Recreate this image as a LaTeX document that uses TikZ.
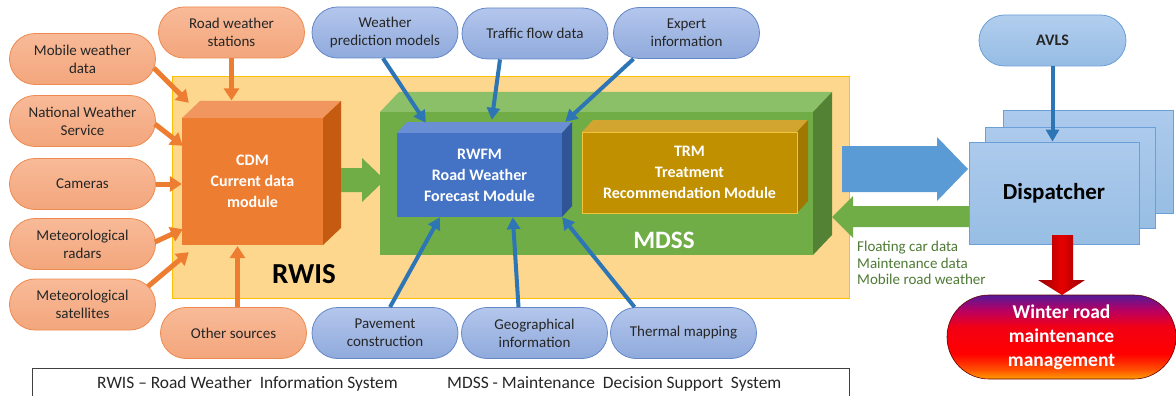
\documentclass[tikz,border=0pt]{standalone}
\usepackage{fontspec}
\setmainfont{Carlito}
\usetikzlibrary{shapes.misc,arrows.meta,calc}
\definecolor{ortop}{RGB}{248,186,152}
\definecolor{orbot}{RGB}{243,166,124}
\definecolor{ordraw}{RGB}{238,138,80}
\definecolor{orarrow}{RGB}{237,125,49}
\definecolor{bltop}{RGB}{180,198,236}
\definecolor{blbot}{RGB}{143,170,220}
\definecolor{bldraw}{RGB}{100,135,200}
\definecolor{blarrow}{RGB}{46,117,182}
\definecolor{txt}{RGB}{38,38,38}
\definecolor{rwisfill}{RGB}{253,215,142}
\definecolor{rwisdraw}{RGB}{255,192,0}
\definecolor{cdmfront}{RGB}{237,125,49}
\definecolor{cdmtop}{RGB}{241,150,95}
\definecolor{cdmside}{RGB}{197,90,17}
\definecolor{mdfront}{RGB}{112,173,71}
\definecolor{mdtop}{RGB}{140,192,104}
\definecolor{mdside}{RGB}{84,130,53}
\definecolor{rwfront}{RGB}{68,114,196}
\definecolor{rwtop}{RGB}{106,143,212}
\definecolor{rwside}{RGB}{47,85,151}
\definecolor{trfront}{RGB}{192,144,0}
\definecolor{trtop}{RGB}{210,165,48}
\definecolor{trside}{RGB}{160,120,0}
\definecolor{trdraw}{RGB}{240,196,60}
\definecolor{bigblue}{RGB}{91,155,213}
\definecolor{disptop}{RGB}{172,202,236}
\definecolor{dispbot}{RGB}{152,190,228}
\definecolor{dispdraw}{RGB}{106,159,216}
\definecolor{avtop}{RGB}{178,206,238}
\definecolor{avbot}{RGB}{150,188,228}
\definecolor{greentext}{RGB}{78,122,53}
\definecolor{darkred}{RGB}{150,0,0}
\definecolor{legdraw}{RGB}{64,64,64}
\pgfdeclareverticalshading{winshade}{100bp}{%
  rgb(0bp)=(1,0.62,0); rgb(25bp)=(1,0.62,0); rgb(31bp)=(1,0.3,0);
  rgb(40bp)=(1,0,0); rgb(56bp)=(0.95,0,0.08); rgb(66bp)=(0.72,0,0.38);
  rgb(75bp)=(0.33,0.1,0.6); rgb(100bp)=(0.33,0.1,0.6)}
\newcommand\pillfont{\fontsize{15}{18}\selectfont}
\newcommand\modfont{\fontsize{16}{21}\selectfont\bfseries}
\tikzset{
  pillshape/.style={rounded rectangle, minimum width=146pt, minimum height=51pt, inner sep=0pt, line width=0.8pt, align=center, text=txt, font=\pillfont},
  opill/.style={pillshape, draw=ordraw, top color=ortop, bottom color=orbot},
  bpill/.style={pillshape, draw=bldraw, top color=bltop, bottom color=blbot},
  oarr/.style={draw=orarrow, line width=5pt, -{Triangle[length=12pt,width=15pt]}},
  barr/.style={draw=blarrow, line width=4pt, -{Triangle[length=12pt,width=13pt]}},
  modtext/.style={text=white, font=\modfont, align=center, inner sep=0pt},
  dispbox/.style={draw=dispdraw, line width=0.8pt, top color=disptop, bottom color=dispbot, inner sep=0pt},
  legtext/.style={anchor=west, inner sep=0pt, text=txt, font=\fontsize{17.4}{20}\selectfont}
}
\begin{document}
\begin{tikzpicture}[x=1pt,y=-1pt]
\useasboundingbox (0,0) rectangle (1176,396);
% RWIS box
\node[draw=rwisdraw, fill=rwisfill, line width=0.8pt, minimum width=677pt, minimum height=222pt, inner sep=0pt] (rwis) at (510.5,187) {};
\node[font=\fontsize{29}{32}\selectfont\bfseries, text=black] (rwislabel) at (304,274) {RWIS};
% MDSS cube
\fill[mdtop] (380,112) -- (399,92) -- (832,92) -- (813,112) -- cycle;
\fill[mdside] (813,112) -- (832,92) -- (832,235) -- (813,255) -- cycle;
\node[fill=mdfront, minimum width=433pt, minimum height=143pt, inner sep=0pt] (mdss) at (596.5,183.5) {};
\node[font=\fontsize{25}{28}\selectfont\bfseries, text=white] (mdsslabel) at (664,240) {MDSS};
% RWFM cube
\fill[rwtop] (397,133) -- (407,122) -- (572,122) -- (562,133) -- cycle;
\fill[rwside] (562,133) -- (572,122) -- (572,206) -- (562,217) -- cycle;
\node[fill=rwfront, minimum width=165pt, minimum height=84pt, modtext] (rwfm) at (479.5,175) {RWFM\\Road Weather\\Forecast Module};
% TRM cube
\fill[trtop] (582,132) -- (593,120) -- (808,120) -- (797,132) -- cycle;
\fill[trside] (797,132) -- (808,120) -- (808,201) -- (797,213) -- cycle;
\node[fill=trfront, draw=trdraw, line width=0.8pt, minimum width=215pt, minimum height=81pt, modtext] (trm) at (689.5,172.5) {TRM\\Treatment\\Recommendation Module};
% CDM cube
\fill[cdmtop] (182,118) -- (200,101) -- (341,101) -- (323,118) -- cycle;
\fill[cdmside] (323,118) -- (341,101) -- (341,228) -- (323,245) -- cycle;
\node[fill=cdmfront, minimum width=141pt, minimum height=127pt, modtext] (cdm) at (252.5,181.5) {CDM\\Current data\\module};
% green block arrow CDM -> MDSS
\fill[mdfront] (341,168) -- (362,168) -- (362,158) -- (385,180) -- (362,202) -- (362,192) -- (341,192) -- cycle;
% orange pills
\node[opill] (mwd) at (82.5,59) {Mobile weather\\data};
\node[opill] (nws) at (82.5,121) {National Weather\\Service};
\node[opill] (cam) at (82.5,184) {Cameras};
\node[opill] (rad) at (82.5,244) {Meteorological\\radars};
\node[opill] (sat) at (82.5,304.5) {Meteorological\\satellites};
\node[opill] (rws) at (231.5,32.5) {Road weather\\stations};
\node[opill] (oth) at (233.5,333) {Other sources};
% blue pills
\node[bpill] (wpm) at (385,32.5) {Weather\\prediction models};
\node[bpill] (tfd) at (535,33.5) {Traffic flow data};
\node[bpill] (exp) at (686.5,33) {Expert\\information};
\node[bpill] (pav) at (385,333) {Pavement\\construction};
\node[bpill] (geo) at (534.5,333) {Geographical\\information};
\node[bpill] (thm) at (683.5,333) {Thermal mapping};
% orange arrows
\draw[oarr] ($(mwd.east)+(-2,9)$) -- ($(cdm.north west)+(7,-15)$);
\draw[oarr] ($(nws.east)+(-1,3)$) -- ($(cdm.north west)+(1,28)$);
\draw[oarr] (cam.east) -- (cam.east -| cdm.west);
\draw[oarr] ($(rad.east)+(-1,-2)$) -- ($(cdm.south west)+(1,-16)$);
\draw[oarr] ($(sat.east)+(-8,-18)$) -- ($(cdm.south west)+(7,7)$);
\draw[oarr] (rws.south) -- ($(rws.south)+(0,42)$);
\draw[oarr] ($(oth.north)+(4,0)$) -- ($(oth.north)+(4,-61)$);
% blue arrows
\draw[barr] ($(wpm.south)+(-2,0)$) -- ($(rwfm.north west)+(29,-10)$);
\draw[barr] ($(tfd.south)+(-35,0)$) -- ($(rwfm.north west)+(95,-13)$);
\draw[barr] ($(exp.south)+(-53,0)$) -- ($(rwfm.north east)+(3,-11)$);
\draw[barr] ($(pav.north)+(5,0)$) -- ($(rwfm.south west)+(43,0)$);
\draw[barr] ($(geo.north)+(-16,0)$) -- ($(rwfm.south west)+(116,0)$);
\draw[barr] ($(thm.north)+(-49,0)$) -- ($(rwfm.south east)+(0,0)$);
% big blue arrow MDSS -> dispatcher
\fill[bigblue] (842,146) -- (937,146) -- (937,137) -- (968,169) -- (937,201) -- (937,192) -- (842,192) -- cycle;
% green arrow dispatcher -> MDSS
\fill[mdfront] (975,206) -- (853,206) -- (853,196) -- (832,217) -- (853,238) -- (853,227) -- (975,227) -- cycle;
% dispatcher stack
\node[dispbox, minimum width=170pt, minimum height=103pt] (disp3) at (1088,161.5) {};
\node[dispbox, minimum width=170pt, minimum height=101pt] (disp2) at (1070,177.5) {};
\node[dispbox, minimum width=170pt, minimum height=102pt, font=\fontsize{23}{27}\selectfont\bfseries, text=black] (disp) at (1054,193) {Dispatcher};
% AVLS
\node[pillshape, minimum width=147pt, draw=dispdraw, top color=avtop, bottom color=avbot, font=\fontsize{16}{19}\selectfont\bfseries] (avls) at (1052.5,40.5) {AVLS};
\draw[barr] (avls.south) -- (avls.south |- disp.north);
% red arrow
\shade[left color=darkred, right color=darkred, middle color=red!90!black] (1052,235) -- (1073,235) -- (1073,280) -- (1085,280) -- (1062,295) -- (1038,280) -- (1052,280) -- cycle;
% winter node
\node[rounded rectangle, minimum width=229pt, minimum height=84pt, inner sep=0pt, draw=darkred!70!black, line width=0.6pt, shading=winshade, text=white, align=center, font=\fontsize{19.5}{24}\selectfont\bfseries] (wrm) at (1061.5,337) {Winter road\\maintenance\\management};
% green feedback text
\node[anchor=north west, align=left, inner sep=0pt, text=greentext, font=\fontsize{15}{16.5}\selectfont] (fcd) at (857,241) {Floating car data\\Maintenance data\\Mobile road weather};
% legend
\draw[legdraw, line width=0.8pt] (32,368) rectangle (849,410);
\node[legtext] (leg1) at (97,384) {RWIS – Road Weather\ \ Information System};
\node[legtext] (leg2) at (447,384) {MDSS - Maintenance\ \ Decision Support\ \ System};
\end{tikzpicture}
\end{document}
